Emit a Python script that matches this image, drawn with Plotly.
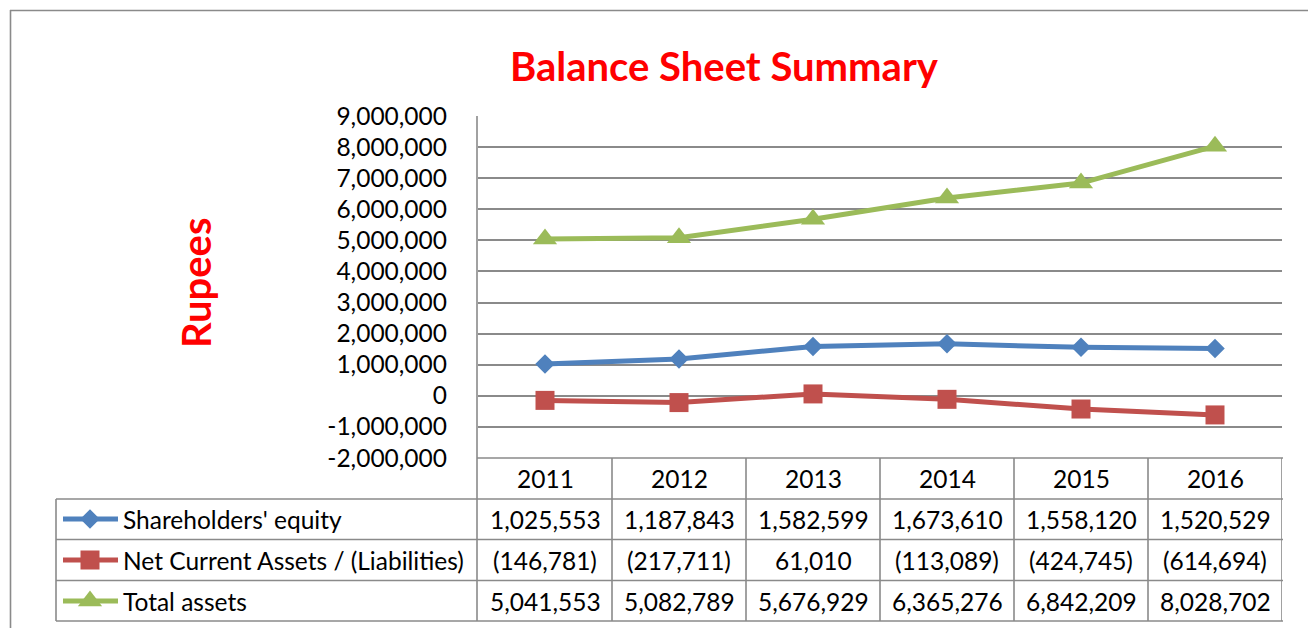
import plotly.graph_objects as go

# ---------------- data ----------------
years = ["2011", "2012", "2013", "2014", "2015", "2016"]
series_names = ["Shareholders' equity", "Net Current Assets / (Liabilities)", "Total assets"]
equity = [1025553, 1187843, 1582599, 1673610, 1558120, 1520529]
net_current = [-146781, -217711, 61010, -113089, -424745, -614694]
total_assets = [5041553, 5082789, 5676929, 6365276, 6842209, 8028702]
y_tick_vals = [-2000000, -1000000, 0, 1000000, 2000000, 3000000, 4000000,
               5000000, 6000000, 7000000, 8000000, 9000000]
y_tick_text = ["-2,000,000", "-1,000,000", "0", "1,000,000", "2,000,000", "3,000,000",
               "4,000,000", "5,000,000", "6,000,000", "7,000,000", "8,000,000", "9,000,000"]

colors = ["#4F81BD", "#C0504D", "#9BBB59"]
symbols = ["diamond", "square", "triangle-up"]
msizes = [15, 19, 21]
all_series = [equity, net_current, total_assets]

W, H = 1308, 628
FONT = "Lato"
GRID = "#8A8A8A"
FS = 24.5


def px(x):
    return x / W


def py(y):
    return 1 - y / H


def fmt(v):
    return f"({abs(v):,})" if v < 0 else f"{v:,}"


fig = go.Figure()

for name, vals, c, s, ms in zip(series_names, all_series, colors, symbols, msizes):
    fig.add_trace(go.Scatter(
        x=years, y=vals, name=name, mode="lines+markers",
        line=dict(color=c, width=5),
        marker=dict(symbol=s, size=ms, color=c),
        xaxis="x", yaxis="y", showlegend=False, hoverinfo="x+y+name"))

# legend icons in the table (separate pixel-space axis covering the page)
row_y = [519, 560, 601]
for c, s, ms, yy in zip(colors, symbols, msizes, row_y):
    fig.add_trace(go.Scatter(
        x=[63, 90, 118], y=[yy, yy, yy], mode="lines",
        line=dict(color=c, width=5), xaxis="x2", yaxis="y2",
        showlegend=False, hoverinfo="skip"))
    fig.add_trace(go.Scatter(
        x=[90], y=[yy], mode="markers",
        marker=dict(symbol=s, size=ms, color=c), xaxis="x2", yaxis="y2",
        showlegend=False, hoverinfo="skip"))

shapes = []
line = dict(color=GRID, width=1.6)
# outer frame
shapes.append(dict(type="line", xref="paper", yref="paper", x0=px(10), x1=px(1310), y0=py(10.5), y1=py(10.5), line=line))
shapes.append(dict(type="line", xref="paper", yref="paper", x0=px(10.5), x1=px(10.5), y0=py(10), y1=py(640), line=line))
# left axis line extending through table
shapes.append(dict(type="line", xref="paper", yref="paper", x0=px(477), x1=px(477), y0=py(116), y1=py(621), line=line))
# column separators in table
n = len(years)
for k in range(1, n + 1):
    xk = k - 0.5
    shapes.append(dict(type="line", xref="x", yref="paper", x0=xk, x1=xk, y0=py(458), y1=py(621), line=line))
# table horizontal lines
shapes.append(dict(type="line", xref="paper", yref="paper", x0=px(477), x1=px(1283), y0=py(458), y1=py(458), line=line))
for yy in [499, 539.5, 580.5, 621]:
    shapes.append(dict(type="line", xref="paper", yref="paper", x0=px(56), x1=px(1283), y0=py(yy), y1=py(yy), line=line))
shapes.append(dict(type="line", xref="paper", yref="paper", x0=px(56), x1=px(56), y0=py(499), y1=py(621), line=line))

annotations = []
tfont = dict(family=FONT, size=FS, color="#000000")
for i, yr in enumerate(years):
    annotations.append(dict(x=i, y=py(478), xref="x", yref="paper", text=yr, showarrow=False,
                            font=tfont, xanchor="center", yanchor="middle"))
for name, vals, yy in zip(series_names, all_series, row_y):
    annotations.append(dict(x=px(121), y=py(yy), xref="paper", yref="paper", text=name, showarrow=False,
                            font=tfont, xanchor="left", yanchor="middle"))
    for i, v in enumerate(vals):
        annotations.append(dict(x=i, y=py(yy), xref="x", yref="paper", text=fmt(v), showarrow=False,
                                font=tfont, xanchor="center", yanchor="middle"))
annotations.append(dict(x=px(724), y=py(66), xref="paper", yref="paper", text="<b>Balance Sheet Summary</b>",
                        showarrow=False, font=dict(family=FONT, size=40, color="#FF0000"),
                        xanchor="center", yanchor="middle"))
annotations.append(dict(x=px(196), y=py(283), xref="paper", yref="paper", text="<b>Rupees</b>",
                        showarrow=False, textangle=-90, font=dict(family=FONT, size=40, color="#FF0000"),
                        xanchor="center", yanchor="middle"))

fig.update_layout(
    width=W, height=H, margin=dict(l=0, r=0, t=0, b=0, autoexpand=False),
    paper_bgcolor="white", plot_bgcolor="rgba(0,0,0,0)",
    font=dict(family=FONT, size=FS, color="#000000"),
    xaxis=dict(domain=[px(478), px(1282)], type="category", range=[-0.5, n - 0.5],
               showgrid=False, zeroline=False, showline=False, showticklabels=False,
               fixedrange=True, automargin=False),
    yaxis=dict(domain=[py(458), py(116)], range=[-2000000, 9000000], tickvals=y_tick_vals,
               ticktext=y_tick_text, showgrid=True, gridcolor=GRID, gridwidth=1.6, zeroline=False,
               showline=False, ticks="", ticklabelstandoff=30, tickfont=dict(family=FONT, size=FS),
               fixedrange=True, automargin=False),
    xaxis2=dict(domain=[0, 1], range=[0, W], visible=False, anchor="y2", fixedrange=True, automargin=False),
    yaxis2=dict(domain=[0, 1], range=[H, 0], visible=False, anchor="x2", fixedrange=True, automargin=False),
    shapes=shapes, annotations=annotations, showlegend=False,
)

fig.write_html("out.html")
